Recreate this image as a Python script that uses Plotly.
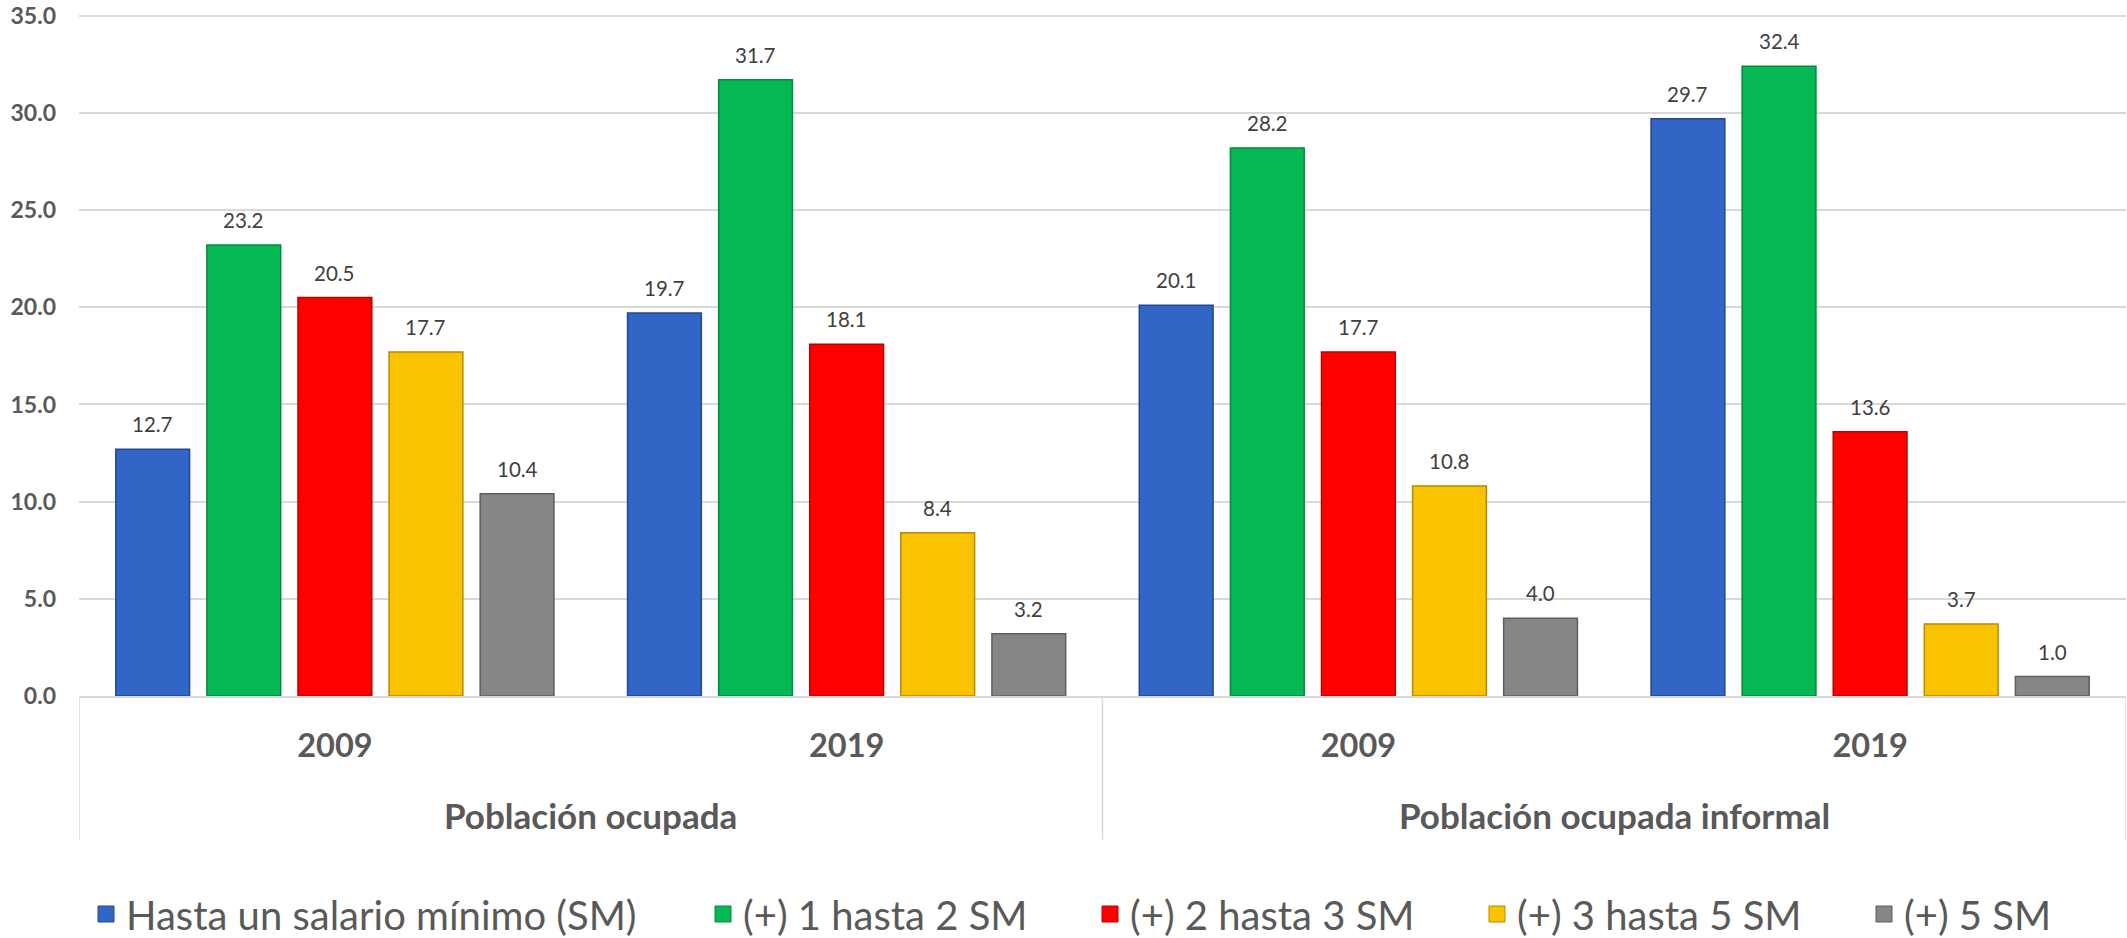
import plotly.graph_objects as go

# Category levels
groups = ["Población ocupada", "Población ocupada informal"]
years = ["2009", "2019"]

# Wage-bracket series (percent), one value per group/year
series_names = [
    "Hasta un salario mínimo (SM)",
    "(+) 1 hasta 2 SM",
    "(+) 2 hasta 3 SM",
    "(+) 3 hasta 5 SM",
    "(+) 5 SM",
]
hasta_1_sm = [12.7, 19.7, 20.1, 29.7]
de_1_a_2_sm = [23.2, 31.7, 28.2, 32.4]
de_2_a_3_sm = [20.5, 18.1, 17.7, 13.6]
de_3_a_5_sm = [17.7, 8.4, 10.8, 3.7]
mas_de_5_sm = [10.4, 3.2, 4.0, 1.0]

y_ticks = [0, 5, 10, 15, 20, 25, 30, 35]

series_values = [hasta_1_sm, de_1_a_2_sm, de_2_a_3_sm, de_3_a_5_sm, mas_de_5_sm]
fills = ["#3266c6", "#06b853", "#fe0000", "#f9c300", "#868686"]
edges = ["#24478f", "#048a3e", "#c00000", "#b88a00", "#5e5e5e"]
legend_widths = [572, 342, 342, 342, 160]

categories = [f"{g} {y}" for g in groups for y in years]
year_text = [y for g in groups for y in years]

BARGAP = 0.11
BARGROUPGAP = 0.19
slot = (1 - BARGAP) / len(series_values)

FONT = "Lato"
GREY = "#595959"
GRID = "#d9d9d9"

fig = go.Figure()

for name, vals, fill, edge in zip(series_names, series_values, fills, edges):
    fig.add_trace(go.Bar(
        x=categories, y=vals, name=name,
        marker=dict(color=fill, line=dict(color=edge, width=1.5)),
        showlegend=False,
        hovertemplate="%{y:.1f}<extra>" + name + "</extra>",
    ))

# Legend entries with larger square swatches
for name, fill, edge, lw in zip(series_names, fills, edges, legend_widths):
    fig.add_trace(go.Scatter(
        x=[None], y=[None], mode="markers", name=name,
        marker=dict(symbol="square", size=16, color=fill, line=dict(color=edge, width=1)),
        legendwidth=lw,
    ))

annotations = []
# Value labels above each bar
for k, vals in enumerate(series_values):
    offset = (k - (len(series_values) - 1) / 2) * slot
    for i, v in enumerate(vals):
        annotations.append(dict(
            x=i + offset, y=v, xref="x", yref="y",
            text=f"{v:.1f}", showarrow=False, yshift=25,
            font=dict(family=FONT, size=20.5, color="#404040"),
        ))

# Outer group labels
for j, g in enumerate(groups):
    annotations.append(dict(
        x=j * len(years) + (len(years) - 1) / 2, y=-0.173, xref="x", yref="paper",
        text=g, showarrow=False, yanchor="middle",
        font=dict(family=FONT, size=35, color=GREY, weight="bold"),
    ))

# Vertical dividers framing each group
shapes = []
for j in range(len(groups) + 1):
    xpos = j * len(years) - 0.5
    shapes.append(dict(
        type="line", xref="x", yref="paper",
        x0=xpos, x1=xpos, y0=0, y1=-0.208,
        line=dict(color=GRID, width=1.5),
    ))

fig.update_layout(
    width=2127, height=938,
    margin=dict(l=79, r=1, t=4, b=242),
    paper_bgcolor="white", plot_bgcolor="white",
    barmode="group", bargap=BARGAP, bargroupgap=BARGROUPGAP,
    annotations=annotations, shapes=shapes,
    showlegend=True,
    legend=dict(
        orientation="h", xref="container", yref="container",
        x=86 / 2127, xanchor="left", y=1 - 914 / 938, yanchor="middle",
        font=dict(family=FONT, size=40, color=GREY),
        itemsizing="trace", bgcolor="rgba(0,0,0,0)",
    ),
    xaxis=dict(
        type="category", tickvals=categories, ticktext=year_text,
        showgrid=False, showline=True, linecolor=GRID, linewidth=1.5,
        ticks="", ticklabelstandoff=20,
        tickfont=dict(family=FONT, size=32.5, color=GREY, weight="bold"),
        range=[-0.5, len(categories) - 0.5],
    ),
    yaxis=dict(
        range=[0, 35.5], tickvals=y_ticks, tickformat=".1f",
        showgrid=True, gridcolor=GRID, gridwidth=1.5,
        zeroline=False, showline=False, ticks="", ticklabelstandoff=22,
        ticklabeloverflow="allow",
        tickfont=dict(family=FONT, size=23, color=GREY, weight="bold"),
    ),
)

fig.write_html("out.html")
